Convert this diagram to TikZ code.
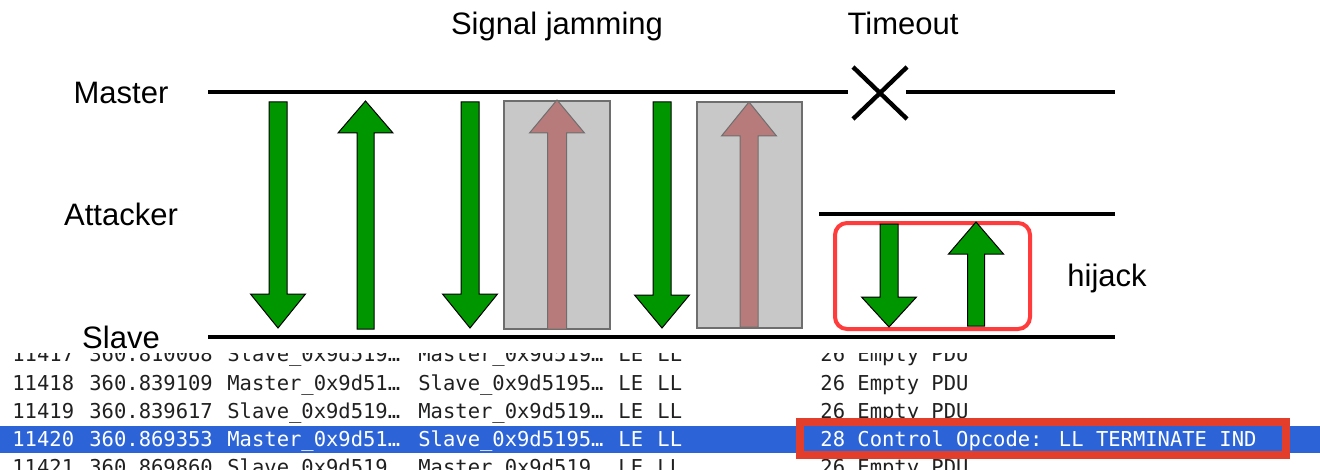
\documentclass[tikz,border=0pt]{standalone}
\usepackage{fontspec}
\setmainfont{Liberation Sans}
\newfontfamily\monof{DejaVu Sans Mono}
\definecolor{arrgreen}{HTML}{009600}
\definecolor{jamfill}{HTML}{C8C8C8}
\definecolor{jamdraw}{HTML}{6E6E6E}
\definecolor{jamarrow}{HTML}{B77B7B}
\definecolor{hibox}{HTML}{FF3B3B}
\definecolor{selblue}{HTML}{2C64D8}
\definecolor{selred}{HTML}{E33E2B}
\definecolor{rowtext}{HTML}{202020}
\newcommand{\blockarrow}[6][]{%
  \draw[#1] ({#2-#6},#3) -- ({#2-#6},#4) -- ({#2-27.5},#4) -- (#2,#5) -- ({#2+27.5},#4) -- ({#2+#6},#4) -- ({#2+#6},#3) -- cycle;}
\newcommand{\trow}[9]{%
  \node[#1] (r#2a) at (12,#2) {#3};
  \node[#1] (r#2b) at (89,#2) {#4};
  \node[#1] (r#2c) at (227,#2) {#5};
  \node[#1] (r#2d) at (418,#2) {#6};
  \node[#1] (r#2e) at (618,#2) {#7};
  \node[#1] (r#2f) at (657,#2) {#8};
  \node[#1] (r#2g) at (820,#2) {#9};}
\tikzset{
  lbl/.style={anchor=base, inner sep=0pt, font=\fontsize{15.5}{18}\selectfont},
  lifeline/.style={line width=1.6pt, black},
  greenarr/.style={fill=arrgreen, draw=black, line width=0.5pt},
  jamarr/.style={fill=jamarrow, draw=jamdraw, line width=0.5pt},
  jambox/.style={fill=jamfill, draw=jamdraw, line width=0.6pt},
  cell/.style={anchor=base west, inner sep=0pt, text=rowtext, font=\monof\fontsize{10.25}{12}\selectfont},
  selcell/.style={cell, text=white},
}
\begin{document}
\begin{tikzpicture}[x=0.5pt, y=-0.5pt]
\useasboundingbox (0,0) rectangle (1320,470);

% labels
\node[lbl] (master) at (121,104) {Master};
\node[lbl] (attacker) at (121,226) {Attacker};
\node[lbl] (slave) at (121,348) {Slave};
\node[lbl] (jam) at (557,35) {Signal jamming};
\node[lbl] (timeout) at (903,35) {Timeout};
\node[lbl] (hijack) at (1107,286) {hijack};

% lifelines
\coordinate (m1) at (208,92);
\coordinate (m2) at (848,92);
\coordinate (m3) at (906,92);
\coordinate (m4) at (1115,92);
\coordinate (a1) at (819,214);
\coordinate (a2) at (1115,214);
\coordinate (s1) at (208,337);
\coordinate (s2) at (1115,337);
\draw[lifeline] (m1) -- (m2);
\draw[lifeline] (m3) -- (m4);
\draw[lifeline] (a1) -- (a2);
\draw[lifeline] (s1) -- (s2);

% timeout cross
\coordinate (x1) at (853,67);
\coordinate (x2) at (907,119);
\coordinate (x3) at (853,119);
\coordinate (x4) at (907,67);
\draw[line width=2.2pt] (x1) -- (x2);
\draw[line width=2.2pt] (x3) -- (x4);

% normal packets
\blockarrow[greenarr]{278}{102}{294}{328}{9}
\blockarrow[greenarr]{365.5}{329}{133}{101}{8.5}
\blockarrow[greenarr]{470}{102}{294}{328}{9}
\blockarrow[greenarr]{662}{102}{295}{328}{9}

% jammed packets
\draw[jambox] (504,101) rectangle (610,329);
\blockarrow[jamarr]{557}{329}{133}{100}{9.5}
\draw[jambox] (697,102) rectangle (802,328);
\blockarrow[jamarr]{749}{327}{136}{102}{9}

% hijack
\draw[hibox, line width=2pt, rounded corners=6pt] (835,223) rectangle (1030,329);
\blockarrow[greenarr]{889}{224}{297}{327}{9}
\blockarrow[greenarr]{976}{326}{254}{222}{8.5}

% packet list
\begin{scope}
\clip (0,353) rectangle (1320,470);
\fill[selblue] (0,426) rectangle (1320,453);
\trow{cell}{361}{11417}{360.810068}{Slave\_0x9d519…}{Master\_0x9d519…}{LE}{LL}{26 Empty PDU}
\trow{cell}{390}{11418}{360.839109}{Master\_0x9d51…}{Slave\_0x9d5195…}{LE}{LL}{26 Empty PDU}
\trow{cell}{418}{11419}{360.839617}{Slave\_0x9d519…}{Master\_0x9d519…}{LE}{LL}{26 Empty PDU}
\trow{selcell}{446}{11420}{360.869353}{Master\_0x9d51…}{Slave\_0x9d5195…}{LE}{LL}{28 Control Opcode: LL TERMINATE IND}
\trow{cell}{474}{11421}{360.869860}{Slave\_0x9d519…}{Master\_0x9d519…}{LE}{LL}{26 Empty PDU}
\draw[selred, line width=4pt] (799.5,421.5) rectangle (1286,455);
\end{scope}
\end{tikzpicture}
\end{document}
